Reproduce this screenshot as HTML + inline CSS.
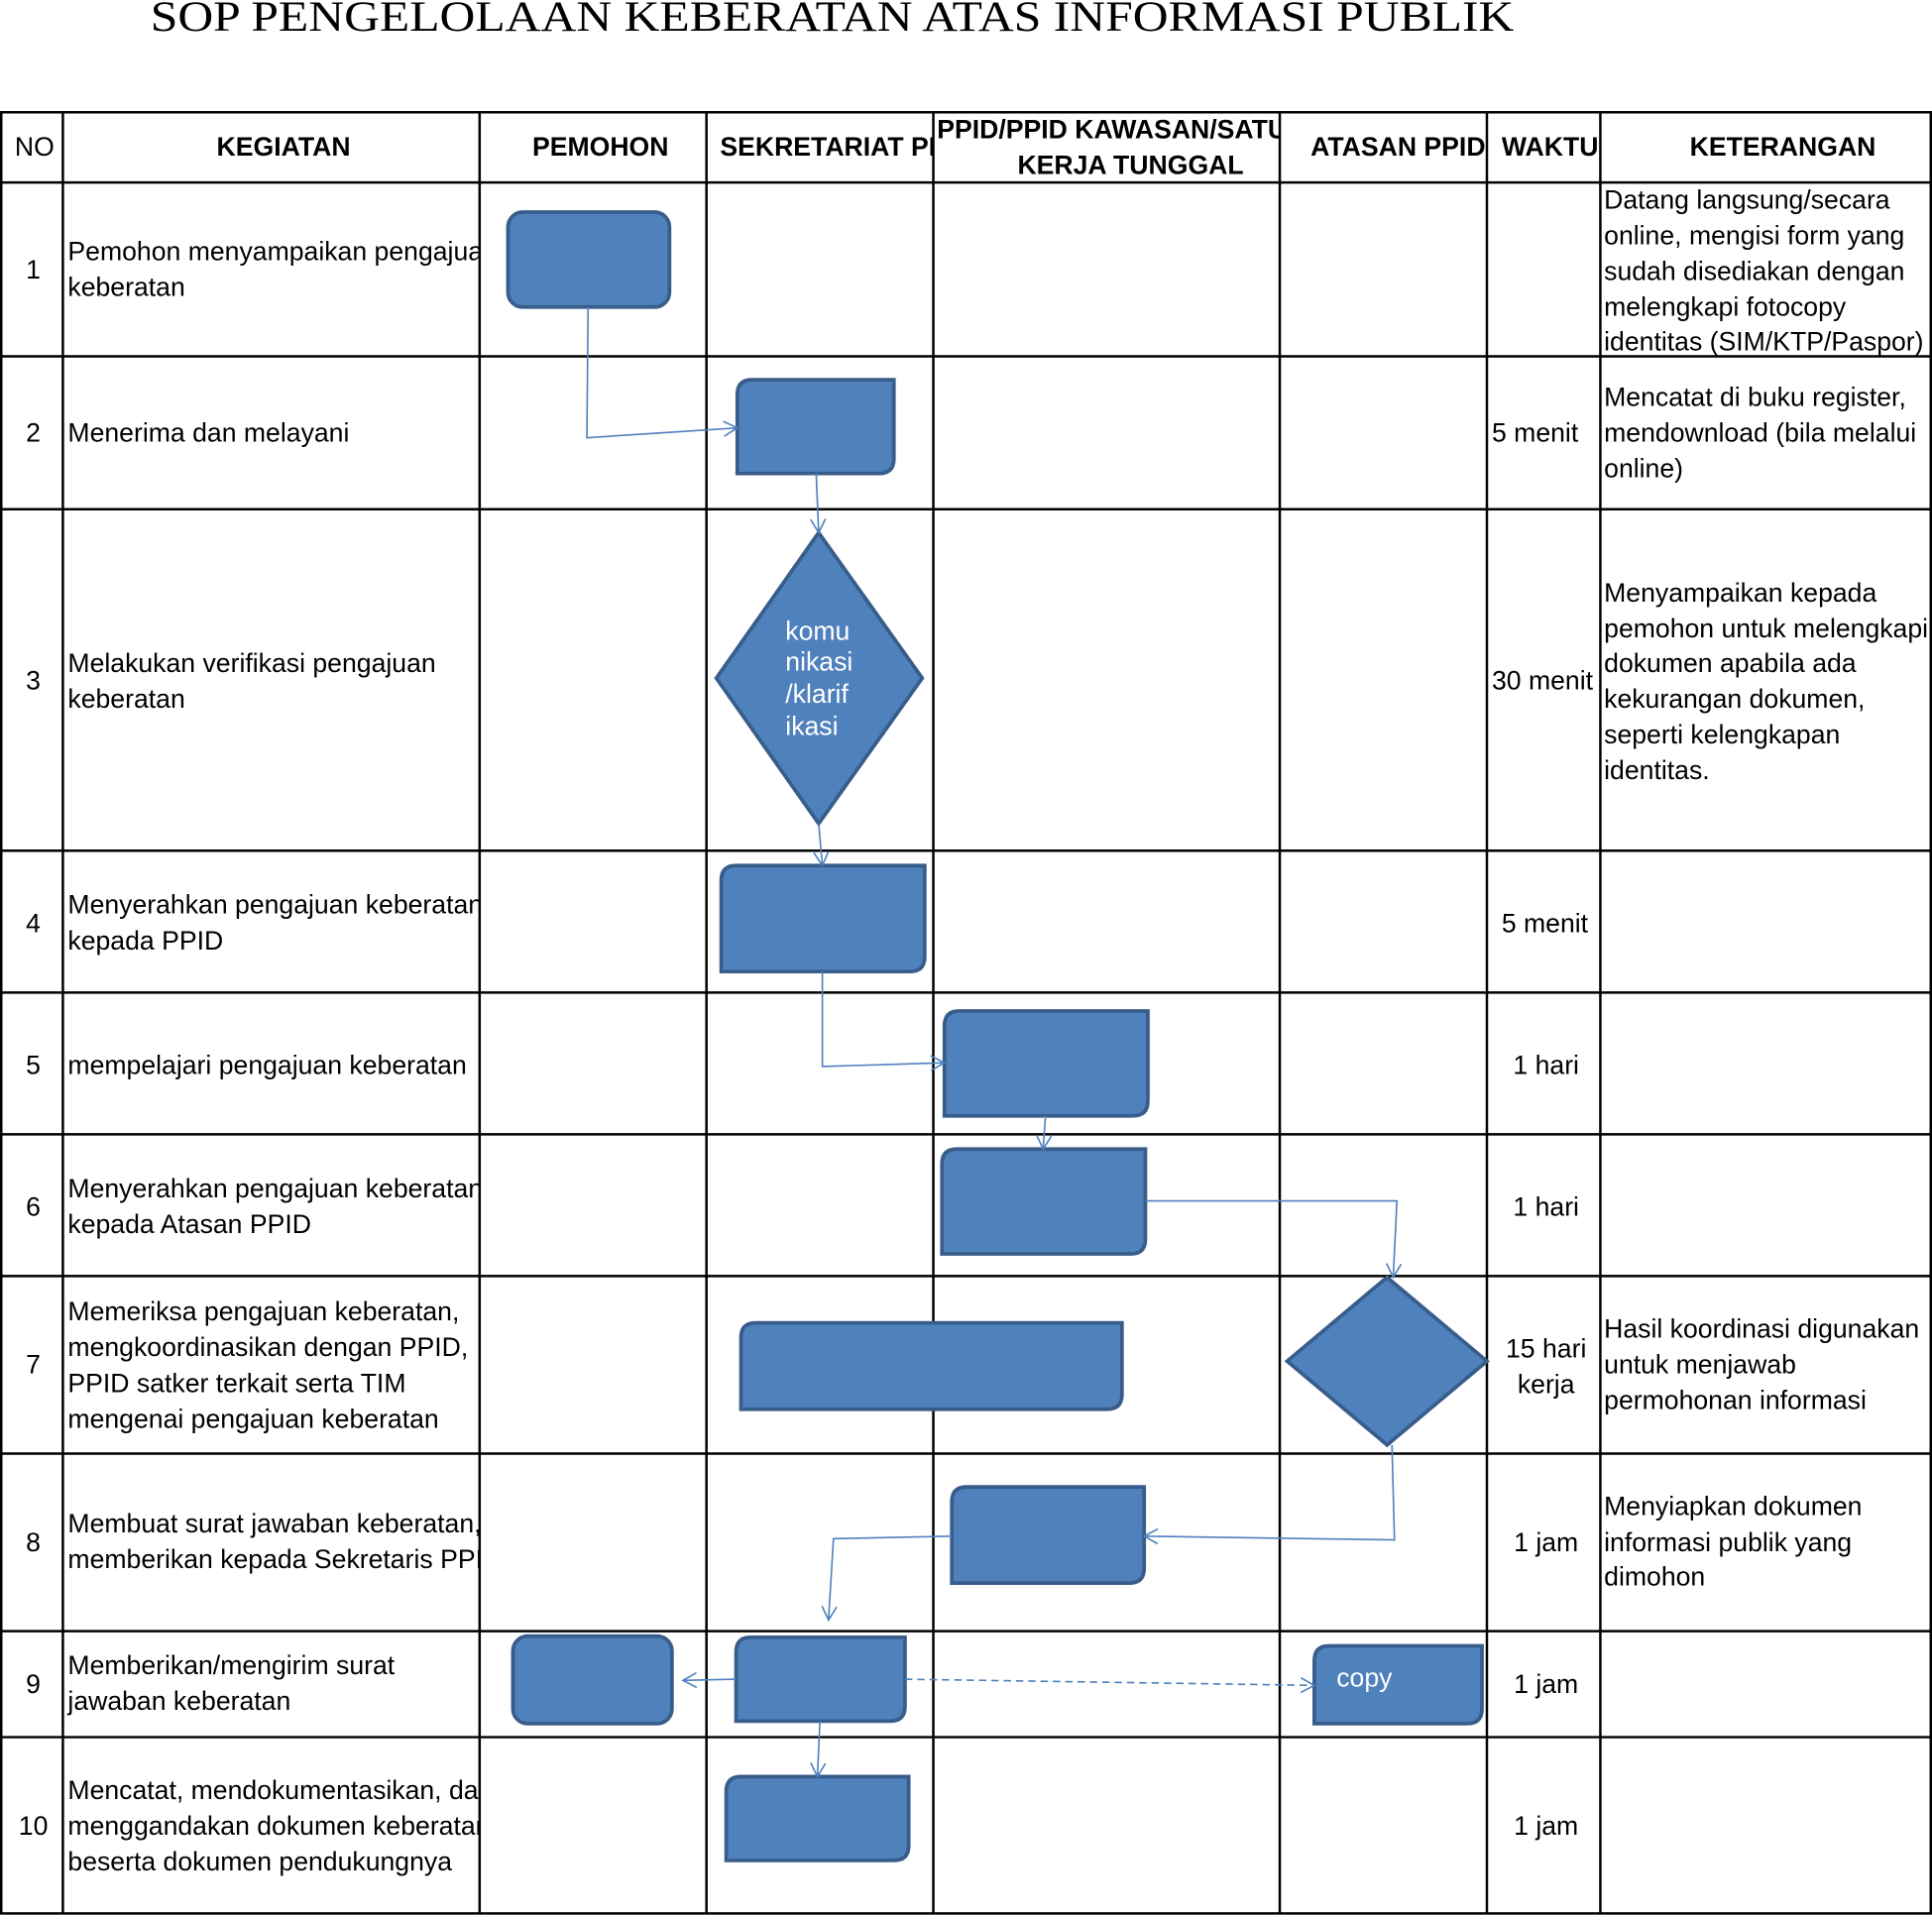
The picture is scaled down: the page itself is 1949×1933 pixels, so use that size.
<!DOCTYPE html>
<html><head><meta charset="utf-8"><style>
html,body{margin:0;padding:0;background:#fff;}
svg{display:block;}
text{font-family:"Liberation Sans",Arial,sans-serif;font-size:21.4px;fill:#000;}
.h{font-weight:bold;}
.w{fill:#fff;}
.s{fill:#4F81BD;stroke:#385D8A;stroke-width:3;}
.c{fill:none;stroke:#4F81BD;stroke-width:1.3;}
</style></head><body>
<svg width="1949" height="1933" viewBox="0 0 1567 1554" xmlns="http://www.w3.org/2000/svg">
<defs>
<marker id="a" markerWidth="14" markerHeight="14" refX="12" refY="7" orient="auto" markerUnits="userSpaceOnUse">
<path d="M1,1 L12,7 L1,13" fill="none" stroke="#4F81BD" stroke-width="1.3"/></marker>
<clipPath id="ck"><rect x="51" y="0" width="338" height="1554"/></clipPath>
<clipPath id="cs"><rect x="573" y="0" width="184" height="1554"/></clipPath>
<clipPath id="cp"><rect x="757" y="0" width="281" height="1554"/></clipPath>
<clipPath id="ca"><rect x="1038" y="0" width="168" height="1554"/></clipPath>
<clipPath id="cw"><rect x="1206" y="0" width="92" height="1554"/></clipPath>
<clipPath id="cr"><rect x="1298" y="0" width="269" height="1554"/></clipPath>
</defs>
<text x="122" y="25" style="font-family:'Liberation Serif',serif;font-size:35px" textLength="1106" lengthAdjust="spacingAndGlyphs">SOP PENGELOLAAN KEBERATAN ATAS INFORMASI PUBLIK</text>

<g stroke="#000" stroke-width="2" fill="none">
<rect x="1" y="91" width="1565" height="1461"/>
<line x1="51" y1="91" x2="51" y2="1552"/><line x1="389" y1="91" x2="389" y2="1552"/>
<line x1="573" y1="91" x2="573" y2="1552"/><line x1="757" y1="91" x2="757" y2="1552"/>
<line x1="1038" y1="91" x2="1038" y2="1552"/><line x1="1206" y1="91" x2="1206" y2="1552"/>
<line x1="1298" y1="91" x2="1298" y2="1552"/>
<line x1="1" y1="148" x2="1566" y2="148"/><line x1="1" y1="289" x2="1566" y2="289"/>
<line x1="1" y1="413" x2="1566" y2="413"/><line x1="1" y1="690" x2="1566" y2="690"/>
<line x1="1" y1="805" x2="1566" y2="805"/><line x1="1" y1="920" x2="1566" y2="920"/>
<line x1="1" y1="1035" x2="1566" y2="1035"/><line x1="1" y1="1179" x2="1566" y2="1179"/>
<line x1="1" y1="1323" x2="1566" y2="1323"/><line x1="1" y1="1409" x2="1566" y2="1409"/>
</g>

<text class="h" x="28" y="126" text-anchor="middle" style="font-weight:normal">NO</text>
<text class="h" x="230" y="126" text-anchor="middle">KEGIATAN</text>
<text class="h" x="487" y="126" text-anchor="middle">PEMOHON</text>
<text class="h" x="584" y="126" clip-path="url(#cs)">SEKRETARIAT PPID</text>
<text class="h" x="760" y="112" clip-path="url(#cp)">PPID/PPID KAWASAN/SATUAN</text>
<text class="h" x="917" y="141" text-anchor="middle">KERJA TUNGGAL</text>
<text class="h" x="1063" y="126" clip-path="url(#ca)">ATASAN PPID</text>
<text class="h" x="1218" y="126" clip-path="url(#cw)">WAKTU</text>
<text class="h" x="1446" y="126" text-anchor="middle">KETERANGAN</text>

<g text-anchor="middle">
<text x="27" y="226">1</text><text x="27" y="358">2</text><text x="27" y="559">3</text>
<text x="27" y="756">4</text><text x="27" y="871">5</text><text x="27" y="986">6</text>
<text x="27" y="1114">7</text><text x="27" y="1258">8</text><text x="27" y="1373">9</text>
<text x="27" y="1488">10</text>
</g>

<g clip-path="url(#ck)">
<text x="55" y="211">Pemohon menyampaikan pengajuan</text><text x="55" y="240">keberatan</text>
<text x="55" y="358">Menerima dan melayani</text>
<text x="55" y="545">Melakukan verifikasi pengajuan</text><text x="55" y="574">keberatan</text>
<text x="55" y="741">Menyerahkan pengajuan keberatan</text><text x="55" y="770">kepada PPID</text>
<text x="55" y="871">mempelajari pengajuan keberatan</text>
<text x="55" y="971">Menyerahkan pengajuan keberatan</text><text x="55" y="1000">kepada Atasan PPID</text>
<text x="55" y="1071">Memeriksa pengajuan keberatan,</text><text x="55" y="1100">mengkoordinasikan dengan PPID,</text>
<text x="55" y="1129">PPID satker terkait serta TIM</text><text x="55" y="1158">mengenai pengajuan keberatan</text>
<text x="55" y="1243">Membuat surat jawaban keberatan,</text><text x="55" y="1272">memberikan kepada Sekretaris PPID</text>
<text x="55" y="1358">Memberikan/mengirim surat</text><text x="55" y="1387">jawaban keberatan</text>
<text x="55" y="1459">Mencatat, mendokumentasikan, dan</text><text x="55" y="1488">menggandakan dokumen keberatan</text>
<text x="55" y="1517">beserta dokumen pendukungnya</text>
</g>

<g clip-path="url(#cw)">
<text x="1210" y="358">5 menit</text><text x="1210" y="559">30 menit</text>
</g>
<g text-anchor="middle">
<text x="1253" y="756">5 menit</text><text x="1254" y="871">1 hari</text><text x="1254" y="986">1 hari</text>
<text x="1254" y="1101">15 hari</text><text x="1254" y="1130">kerja</text>
<text x="1254" y="1258">1 jam</text><text x="1254" y="1373">1 jam</text><text x="1254" y="1488">1 jam</text>
</g>

<g clip-path="url(#cr)">
<text x="1301" y="169">Datang langsung/secara</text><text x="1301" y="198">online, mengisi form yang</text>
<text x="1301" y="227">sudah disediakan dengan</text><text x="1301" y="256">melengkapi fotocopy</text>
<text x="1301" y="284">identitas (SIM/KTP/Paspor)</text>
<text x="1301" y="329">Mencatat di buku register,</text><text x="1301" y="358">mendownload (bila melalui</text>
<text x="1301" y="387">online)</text>
<text x="1301" y="488">Menyampaikan kepada</text><text x="1301" y="517">pemohon untuk melengkapi</text>
<text x="1301" y="545">dokumen apabila ada</text><text x="1301" y="574">kekurangan dokumen,</text>
<text x="1301" y="603">seperti kelengkapan</text><text x="1301" y="632">identitas.</text>
<text x="1301" y="1085">Hasil koordinasi digunakan</text><text x="1301" y="1114">untuk menjawab</text>
<text x="1301" y="1143">permohonan informasi</text>
<text x="1301" y="1229">Menyiapkan dokumen</text><text x="1301" y="1258">informasi publik yang</text>
<text x="1301" y="1286">dimohon</text>
</g>

<rect class="s" x="412" y="172" width="131" height="77" rx="12"/>
<path class="s" d="M610,308H725V372Q725,384 713,384H598V320Q598,308 610,308Z"/>
<path class="s" d="M664,432L748,550L664,668L581,550Z"/>
<path class="s" d="M597,702H750V776Q750,788 738,788H585V714Q585,702 597,702Z"/>
<path class="s" d="M778,820H931V893Q931,905 919,905H766V832Q766,820 778,820Z"/>
<path class="s" d="M776,932H929V1005Q929,1017 917,1017H764V944Q764,932 776,932Z"/>
<path class="s" d="M613,1073H910V1131Q910,1143 898,1143H601V1085Q601,1073 613,1073Z"/>
<path class="s" d="M1125,1036L1206,1104L1125,1172L1044,1104Z"/>
<path class="s" d="M784,1206H928V1272Q928,1284 916,1284H772V1218Q772,1206 784,1206Z"/>
<rect class="s" x="416" y="1327" width="129" height="71" rx="12"/>
<path class="s" d="M609,1328H734V1384Q734,1396 722,1396H597V1340Q597,1328 609,1328Z"/>
<path class="s" d="M1078,1335H1202V1386Q1202,1398 1190,1398H1066V1347Q1066,1335 1078,1335Z"/>
<path class="s" d="M601,1441H737V1497Q737,1509 725,1509H589V1453Q589,1441 601,1441Z"/>

<text class="w" x="637" y="519">komu</text><text class="w" x="637" y="544">nikasi</text>
<text class="w" x="637" y="570">/klarif</text><text class="w" x="637" y="596">ikasi</text>
<text class="w" x="1084" y="1368">copy</text>

<path class="c" d="M477,249L476,355L598,347" marker-end="url(#a)"/>
<path class="c" d="M662,384L664,432" marker-end="url(#a)"/>
<path class="c" d="M664,668L667,702" marker-end="url(#a)"/>
<path class="c" d="M667,788L667,865L766,862" marker-end="url(#a)"/>
<path class="c" d="M848,905L846,932" marker-end="url(#a)"/>
<path class="c" d="M929,974L1133,974L1130,1036" marker-end="url(#a)"/>
<path class="c" d="M1129,1172L1131,1249L928,1246" marker-end="url(#a)"/>
<path class="c" d="M772,1246L676,1248L672,1314" marker-end="url(#a)"/>
<path class="c" d="M597,1362L554,1363" marker-end="url(#a)"/>
<path class="c" d="M734,1362L1066,1367" stroke-dasharray="6,4" marker-end="url(#a)"/>
<path class="c" d="M665,1396L663,1441" marker-end="url(#a)"/>
</svg>
</body></html>
